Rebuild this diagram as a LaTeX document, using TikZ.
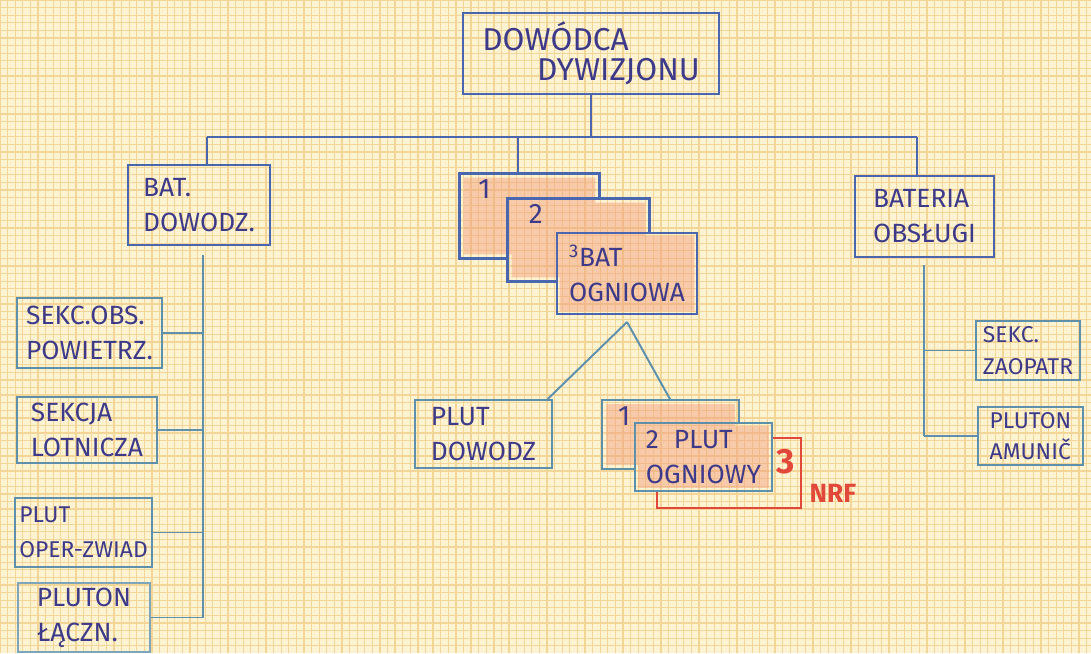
\documentclass[tikz,border=0pt]{standalone}
\usepackage{fontspec}
\setmainfont{Fira Sans}
\usetikzlibrary{positioning}
\definecolor{paper}{HTML}{FCF3D3}
\definecolor{gridline}{HTML}{F2D597}
\definecolor{inkblue}{HTML}{4A66AE}
\definecolor{inkteal}{HTML}{5E8FAB}
\definecolor{inktext}{HTML}{3D3A8A}
\definecolor{crayon}{HTML}{F29A7A}
\definecolor{nrfred}{HTML}{E2483A}
\pgfdeclarelayer{paperlayer}
\pgfdeclarelayer{tintlayer}
\pgfsetlayers{paperlayer,tintlayer,main}

\begin{document}
\begin{tikzpicture}[
    x=0.02cm, y=-0.02cm,
    unit/.style={draw=inkblue, line width=1.5pt, text=inktext, align=left,
                 inner sep=0pt, font=\fontsize{15}{20}\selectfont},
    subunit/.style={unit, draw=inkteal, line width=1.1pt},
    hidden/.style={draw=none},
    boxsize/.style 2 args={minimum width=#1*0.02cm, minimum height=#2*0.02cm},
    link/.style={inkblue, line width=1.5pt},
    sublink/.style={inkteal, line width=1.1pt},
    tint/.style={fill=crayon}
  ]
    \useasboundingbox (0,0) rectangle (1091,653);
    \begin{pgfonlayer}{paperlayer}
      \fill[paper] (0,0) rectangle (1091,653);
      \draw[gridline, line width=0.7pt, xstep=0.152cm, ystep=0.152cm]
        (0,0) grid (1091,653);
    \end{pgfonlayer}

    % command
    \node[unit, boxsize={256}{81}, font=\fontsize{18}{17}\selectfont] (top) at (591,53.5)
      {DOWÓDCA\\\hspace*{1.1cm}DYWIZJONU};

    % batteries
    \node[unit, boxsize={142}{80}] (batdow) at (199,205) {BAT.\\DOWODZ.};
    \node[unit, hidden, boxsize={137}{82},
          label={[text=inktext, font=\fontsize{16}{16}\selectfont, anchor=north west]
                 north west:\hspace*{0.25cm}1}] (bat1) at (529.5,216) {};
    \node[unit, hidden, boxsize={139}{80},
          label={[text=inktext, font=\fontsize{16}{16}\selectfont, anchor=north west]
                 north west:\hspace*{0.3cm}2}] (bat2) at (578.5,240) {};
    \node[unit, boxsize={140}{81}] (bat3) at (627,273.5)
      {\textsuperscript{3}BAT\\OGNIOWA};
    \node[unit, boxsize={139}{81}] (batobs) at (924.5,216.5) {BATERIA\\OBSŁUGI};

    % partly hidden outlines
    \draw[link] (bat2.west |- bat1.south) -- (bat1.south west) -- (bat1.north west)
      -- (bat1.north east) -- (bat1.east |- bat2.north);
    \draw[link] (bat3.west |- bat2.south) -- (bat2.south west) -- (bat2.north west)
      -- (bat2.north east) -- (bat2.east |- bat3.north);

    % sections of BAT. DOWODZ.
    \node[subunit, boxsize={145}{70}] (sekobs) at (89.5,333) {SEKC.OBS.\\POWIETRZ.};
    \node[subunit, boxsize={140}{66}] (seklot) at (87,430) {SEKCJA\\LOTNICZA};
    \node[subunit, boxsize={137}{69}, font=\fontsize{13}{20}\selectfont] (plutop) at (83.5,532.5)
      {PLUT\\OPER-ZWIAD};
    \node[subunit, boxsize={132}{69}, draw=inkteal!80] (plutlacz) at (84,617.5)
      {PLUTON\\ŁĄCZN.};

    % platoons of BAT OGNIOWA
    \node[subunit, boxsize={137}{68}] (plutdow) at (483.5,434) {PLUT\\DOWODZ};
    \node[subunit, hidden, boxsize={135}{67},
          label={[text=inktext, font=\fontsize{16}{16}\selectfont, anchor=north west]
                 north west:\hspace*{0.2cm}1}] (plut1) at (670.5,434.5) {};
    \node[subunit, boxsize={137}{68}] (plut2) at (703.5,457) {2\hspace*{0.3cm}PLUT\\OGNIOWY};
    \node[subunit, hidden, boxsize={142}{68}] (plut3) at (729,473) {};
    \node[text=nrfred, font=\fontsize{20}{20}\selectfont\bfseries] (nr3) at (786,462) {3};
    \node[text=nrfred, font=\fontsize{15}{15}\selectfont\bfseries] (nrf) at (833,493) {NRF};

    \draw[sublink] (plut2.west |- plut1.south) -- (plut1.south west) -- (plut1.north west)
      -- (plut1.north east) -- (plut1.east |- plut2.north);
    \draw[nrfred, line width=1.1pt] (plut2.east |- plut3.north) -- (plut3.north east)
      -- (plut3.south east) -- (plut3.south west) -- (plut3.west |- plut2.south);

    % sections of BATERIA OBSLUGI
    \node[subunit, boxsize={104}{59}, font=\fontsize{13}{18}\selectfont] (sekzao) at (1028,350.5)
      {SEKC.\\ZAOPATR};
    \node[subunit, boxsize={105}{58}, font=\fontsize{13}{18}\selectfont] (plutam) at (1030.5,436)
      {PLUTON\\AMUNIČ};

    % crayon
    \begin{pgfonlayer}{tintlayer}
      \begin{scope}[transparency group, opacity=0.45]
        \foreach \b in {bat1, bat2, bat3, plut1, plut2}
          \fill[tint] ([shift={(4,4)}]\b.north west) rectangle ([shift={(-4,-4)}]\b.south east);
      \end{scope}
    \end{pgfonlayer}

    % Lines
    \coordinate (barL) at (207,137);
    \coordinate (barM) at (518,137);
    \coordinate (barR) at (917,137);
    \draw[link] (barL) -- (barR);
    \draw[link] (top.south) -- (top.south |- barL);
    \draw[link] (barL) -- (barL |- batdow.north);
    \draw[link] (barM) -- (barM |- bat1.north);
    \draw[link] (barR) -- (barR |- batobs.north);

    \coordinate (spineL) at (203,255);
    \draw[sublink] (spineL) -- (spineL |- plutlacz.east);
    \foreach \u in {sekobs, seklot, plutop, plutlacz}
      \draw[sublink] (\u.east) -- (\u.east -| spineL);

    \coordinate (spineR) at (924,265);
    \draw[sublink] (spineR) -- (spineR |- plutam.west);
    \foreach \u in {sekzao, plutam}
      \draw[sublink] (\u.west) -- (\u.west -| spineR);

    \coordinate (fork) at (627,322);
    \draw[sublink] (fork) -- ([xshift=-3]plutdow.north east);
    \draw[sublink] (fork) -- (plut1.north);
  \end{tikzpicture}
\end{document}
